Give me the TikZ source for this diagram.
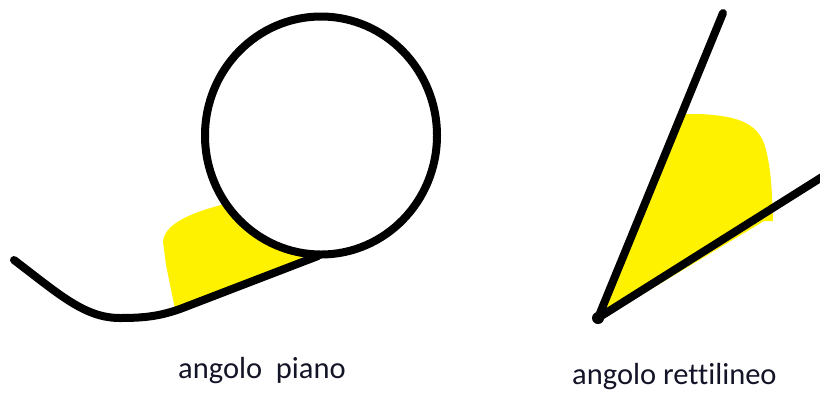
\documentclass[tikz,border=0pt]{standalone}
\usepackage{fontspec}
\setmainfont[Ligatures=NoCommon]{Carlito}
\usetikzlibrary{shapes.geometric}
\definecolor{paintyellow}{RGB}{255,242,0}
\definecolor{labeltext}{RGB}{20,20,40}
\tikzset{
  stroke/.style={line width=8bp, line cap=round, line join=round, draw=black},
  yfill/.style={fill=paintyellow, draw=none},
  lbl/.style={anchor=base west, inner sep=0pt, text=labeltext, font=\fontsize{30.5bp}{33bp}\selectfont}
}
\begin{document}
\begin{tikzpicture}[x=1bp,y=-1bp]
\useasboundingbox (0,0) rectangle (820,392);
\fill[white] (0,0) rectangle (820,392);

% ---- left figure: angolo piano ----
\coordinate (c0) at (14,260);
\coordinate (cmin) at (120,318);
\coordinate (c1) at (180,309);
\coordinate (c2) at (318,256);
\fill[yfill] (176,314) -- (166,265) -- (163,242)
  .. controls (164,226) and (185,214) .. (225,204)
  -- (300,230) -- (302,262) -- cycle;
\draw[stroke] (c0) .. controls (60,295) and (85,318) .. (cmin)
  .. controls (145,318) and (160,316) .. (c1) -- (c2);
\node[draw=black, line width=8bp, fill=white, ellipse, minimum width=232bp, minimum height=238bp, inner sep=0pt, outer sep=0pt] (circ) at (321,135.5) {};

% ---- right figure: angolo rettilineo ----
\coordinate (v) at (598,318);
\coordinate (a) at (723,13);
\coordinate (b) at (822,177);
\fill[yfill] (600,320) -- (681,114) -- (700,114)
  .. controls (740,116) and (760,124) .. (766,150)
  .. controls (771,170) and (772,190) .. (773,221)
  -- (764,221) -- cycle;
\draw[stroke] (a) -- (v) -- (b);
\fill[black] (v) circle (6bp);

% ---- labels ----
\node[lbl] (l1) at (178,378) {angolo\ \ piano};
\node[lbl] (l2) at (572,384) {angolo rettilineo};
\end{tikzpicture}
\end{document}
